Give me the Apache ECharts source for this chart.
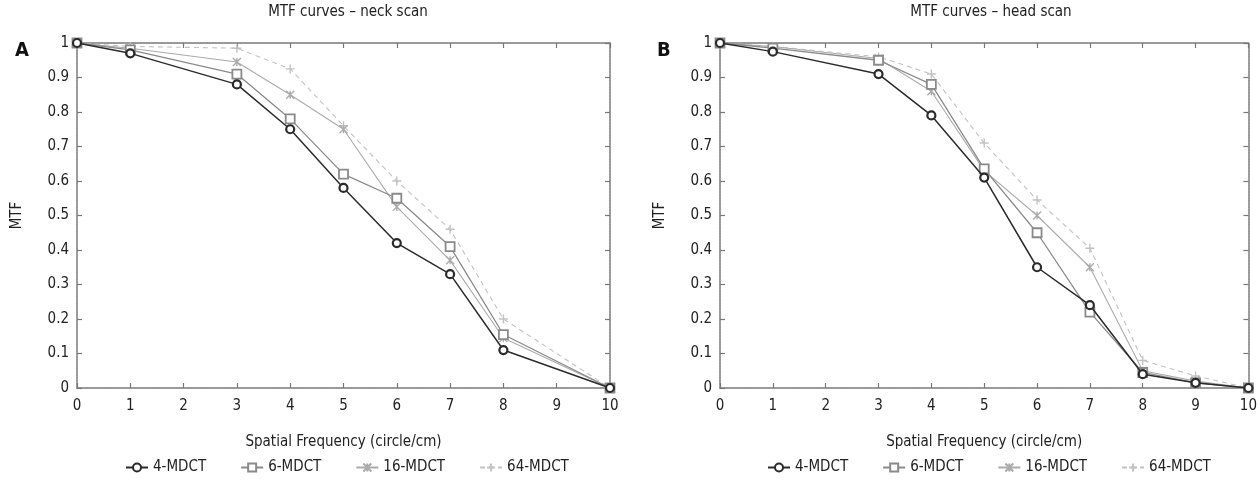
<!DOCTYPE html>
<html>
<head>
<meta charset="utf-8">
<script src="https://cdn.jsdelivr.net/npm/echarts@6/dist/echarts.min.js"></script>
<style>
  html, body { margin: 0; padding: 0; background: #fff; }
  #chart { width: 1260px; height: 482px; }
</style>
</head>
<body>
<div id="chart"></div>
<script>
// spatial frequency samples (circle/cm)
var freqNeck = [0, 1, 3, 4, 5, 6, 7, 8, 10]
var freqHead = [0, 1, 3, 4, 5, 6, 7, 8, 9, 10]

// A - neck scan
var neck4 = [1, 0.97, 0.88, 0.75, 0.58, 0.42, 0.33, 0.11, 0]
var neck6 = [1, 0.98, 0.91, 0.78, 0.62, 0.55, 0.41, 0.155, 0]
var neck16 = [1, 0.985, 0.945, 0.85, 0.75, 0.525, 0.37, 0.145, 0]
var neck64 = [1, 0.99, 0.985, 0.925, 0.76, 0.60, 0.46, 0.20, 0]

// B - head scan
var head4 = [1, 0.975, 0.91, 0.79, 0.61, 0.35, 0.24, 0.04, 0.015, 0]
var head6 = [1, 0.985, 0.95, 0.88, 0.635, 0.45, 0.22, 0.045, 0.015, 0]
var head16 = [1, 0.99, 0.955, 0.86, 0.63, 0.50, 0.35, 0.05, 0.02, 0]
var head64 = [1, 0.99, 0.96, 0.91, 0.71, 0.545, 0.405, 0.08, 0.035, 0]

var seriesNames = ['4-MDCT', '6-MDCT', '16-MDCT', '64-MDCT']
var yTicks = [0, 0.1, 0.2, 0.3, 0.4, 0.5, 0.6, 0.7, 0.8, 0.9, 1]

var font = '"DejaVu Sans Condensed", "Liberation Sans Narrow", sans-serif'
var crossPath = 'path://M0,0L10,10M10,0L0,10M5,0L5,10'
var plusPath = 'path://M5,0L5,10M0,5L10,5'

var styles = [
	{ color: '#2b2b2b', symbol: 'circle', size: 8, width: 1.5, type: 'solid', border: 2.2 },
	{ color: '#8a8a8a', symbol: 'rect', size: 9, width: 1.3, type: 'solid', border: 1.8 },
	{ color: '#ababab', symbol: crossPath, size: 8, width: 1.1, type: 'solid', border: 1.4 },
	{ color: '#c2c2c2', symbol: plusPath, size: 9, width: 1.1, type: [5, 4], border: 1.4 }
]

function pairs(xs, ys) {
	return xs.map(function(x, i) { return [x, ys[i]] })
}

function makeSeries(name, xs, ys, k, axisIdx) {
	var s = styles[k]
	return {
		name: name,
		type: 'line',
		xAxisIndex: axisIdx,
		yAxisIndex: axisIdx,
		data: pairs(xs, ys),
		symbol: s.symbol,
		symbolSize: s.size,
		showAllSymbol: true,
		lineStyle: { color: s.color, width: s.width, type: s.type },
		itemStyle: { color: '#fff', borderColor: s.color, borderWidth: s.border },
		z: 10 - k
	}
}

var axisLine = { show: true, onZero: false, lineStyle: { color: '#999', width: 2, type: [2, 1] } }
var tick = { show: true, inside: true, length: 5, lineStyle: { color: '#777', width: 1.2 } }
var labelStyle = { color: '#222', fontFamily: font, fontSize: 15 }

function xAxes(gridIdx) {
	return [
		{
			type: 'value', gridIndex: gridIdx, min: 0, max: 10, interval: 1,
			name: 'Spatial Frequency (circle/cm)', nameLocation: 'middle', nameGap: 47,
			nameTextStyle: { color: '#222', fontFamily: font, fontSize: 15 },
			axisLine: axisLine, axisTick: tick, splitLine: { show: false },
			axisLabel: Object.assign({ margin: 11 }, labelStyle)
		},
		{
			type: 'value', gridIndex: gridIdx, position: 'top', min: 0, max: 10, interval: 1,
			axisLine: axisLine, axisTick: tick, splitLine: { show: false }, axisLabel: { show: false }
		}
	]
}

function yAxes(gridIdx) {
	return [
		{
			type: 'value', gridIndex: gridIdx, min: 0, max: 1, interval: 0.1,
			name: 'MTF', nameLocation: 'middle', nameGap: 52,
			nameTextStyle: { color: '#222', fontFamily: font, fontSize: 15 },
			axisLine: axisLine, axisTick: tick, splitLine: { show: false },
			axisLabel: Object.assign({ margin: 8, formatter: function(v) {
				var hit = yTicks.filter(function(t) { return Math.abs(t - v) < 1e-6 })
				return hit.length ? String(+hit[0].toFixed(1)) : ''
			} }, labelStyle)
		},
		{
			type: 'value', gridIndex: gridIdx, position: 'right', min: 0, max: 1, interval: 0.1,
			axisLine: axisLine, axisTick: tick, splitLine: { show: false }, axisLabel: { show: false }
		}
	]
}

var legendBase = {
	data: seriesNames,
	bottom: 2,
	width: 520,
	itemWidth: 22,
	itemHeight: 10,
	itemGap: 34,
	textStyle: { color: '#222', fontFamily: font, fontSize: 15 }
}

var options = {
	backgroundColor: '#fff',
	animation: false,
	title: [
		{ text: 'MTF curves – neck scan', left: 343, top: 0, textAlign: 'center',
			textStyle: { color: '#222', fontFamily: font, fontSize: 15, fontWeight: 'normal' } },
		{ text: 'MTF curves – head scan', left: 986, top: 0, textAlign: 'center',
			textStyle: { color: '#222', fontFamily: font, fontSize: 15, fontWeight: 'normal' } },
		{ text: 'A', left: 10, top: 36,
			textStyle: { color: '#111', fontFamily: font, fontSize: 20, fontWeight: 'bold' } },
		{ text: 'B', left: 652, top: 36,
			textStyle: { color: '#111', fontFamily: font, fontSize: 20, fontWeight: 'bold' } }
	],
	legend: [
		Object.assign({ left: 120 }, legendBase),
		Object.assign({ left: 762 }, legendBase)
	],
	grid: [
		{ left: 77, top: 43, width: 533, height: 345 },
		{ left: 720, top: 43, width: 532, height: 345 }
	],
	xAxis: xAxes(0).concat(xAxes(1)),
	yAxis: yAxes(0).concat(yAxes(1)),
	series: [
		makeSeries('4-MDCT', freqNeck, neck4, 0, 0),
		makeSeries('6-MDCT', freqNeck, neck6, 1, 0),
		makeSeries('16-MDCT', freqNeck, neck16, 2, 0),
		makeSeries('64-MDCT', freqNeck, neck64, 3, 0),
		makeSeries('4-MDCT', freqHead, head4, 0, 2),
		makeSeries('6-MDCT', freqHead, head6, 1, 2),
		makeSeries('16-MDCT', freqHead, head16, 2, 2),
		makeSeries('64-MDCT', freqHead, head64, 3, 2)
	]
}

var myChart = echarts.init(document.getElementById('chart'))
myChart.setOption(options)
</script>
</body>
</html>
